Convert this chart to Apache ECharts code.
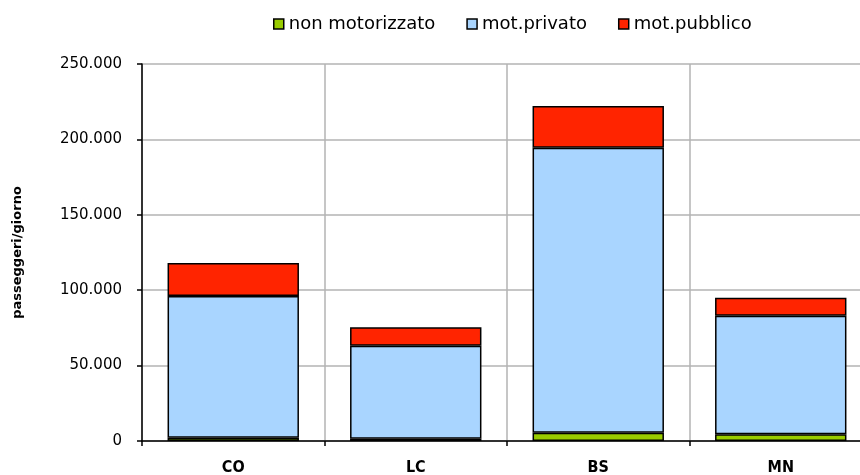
<!DOCTYPE html>
<html>
<head>
<meta charset="utf-8">
<script src="https://cdn.jsdelivr.net/npm/echarts@6/dist/echarts.min.js"></script>
<style>
  html, body { margin: 0; padding: 0; background: #fff; overflow: hidden; }
  #chart { width: 860px; height: 475px; }
</style>
</head>
<body>
<div id="chart"></div>
<script>
// Province categories
const categories = ['CO', 'LC', 'BS', 'MN'];

// Daily passengers by mode (stacked)
const nonMotorizzato = [2200, 1500, 5500, 4400];
const motPrivato = [93900, 61700, 189000, 78700];
const motPubblico = [21900, 12200, 27600, 11900];

// Y axis range
const yMin = 0;
const yMax = 250000;
const yStep = 50000;

const FONT = 'DejaVu Sans';

function fmtThousands(v) {
  return String(v).replace(/\B(?=(\d{3})+(?!\d))/g, '.');
}

const chart = echarts.init(document.getElementById('chart'), null, { renderer: 'canvas' });

function barSeries(name, data, color) {
  return {
    name: name,
    type: 'bar',
    stack: 'total',
    data: data,
    barCategoryGap: '28%',
    itemStyle: { color: color, borderColor: '#000', borderWidth: 1.5 },
    emphasis: { disabled: true }
  };
}

chart.setOption({
  animation: false,
  backgroundColor: '#ffffff',
  textStyle: { fontFamily: FONT },
  legend: {
    top: 10,
    left: 268,
    itemWidth: 10,
    itemHeight: 10,
    itemGap: 31,
    icon: 'rect',
    textStyle: { fontFamily: FONT, fontSize: 18, color: '#000', padding: [0, 0, 0, 0] },
    itemStyle: { borderColor: '#000', borderWidth: 1.5 },
    data: ['non motorizzato', 'mot.privato', 'mot.pubblico']
  },
  // plot area runs past the right edge of the canvas
  grid: { left: 142, top: 64, height: 377, width: 730, containLabel: false, outerBoundsMode: 'none' },
  xAxis: {
    type: 'category',
    data: categories,
    axisLine: { lineStyle: { color: '#000', width: 1.5 } },
    axisTick: { show: true, length: 5, lineStyle: { color: '#000', width: 1.5 } },
    axisLabel: { fontFamily: 'DejaVu Sans Condensed', fontWeight: 'bold', fontSize: 16, color: '#000', margin: 19 },
    splitLine: { show: true, lineStyle: { color: '#b3b3b3', width: 1.5 } }
  },
  yAxis: {
    type: 'value',
    min: yMin,
    max: yMax,
    interval: yStep,
    name: 'passeggeri/giorno',
    nameLocation: 'middle',
    nameGap: 118,
    nameRotate: 90,
    nameTextStyle: { fontFamily: FONT, fontWeight: 'bold', fontSize: 13, color: '#000' },
    axisLine: { show: true, lineStyle: { color: '#000', width: 1.5 } },
    axisTick: { show: true, length: 5, lineStyle: { color: '#000', width: 1.5 } },
    axisLabel: { fontFamily: FONT, fontSize: 15, color: '#000', margin: 20, formatter: fmtThousands },
    splitLine: { show: true, lineStyle: { color: '#b3b3b3', width: 1.5 } }
  },
  series: [
    barSeries('non motorizzato', nonMotorizzato, '#99cc00'),
    barSeries('mot.privato', motPrivato, '#a9d5ff'),
    barSeries('mot.pubblico', motPubblico, '#ff2400')
  ]
});
</script>
</body>
</html>
